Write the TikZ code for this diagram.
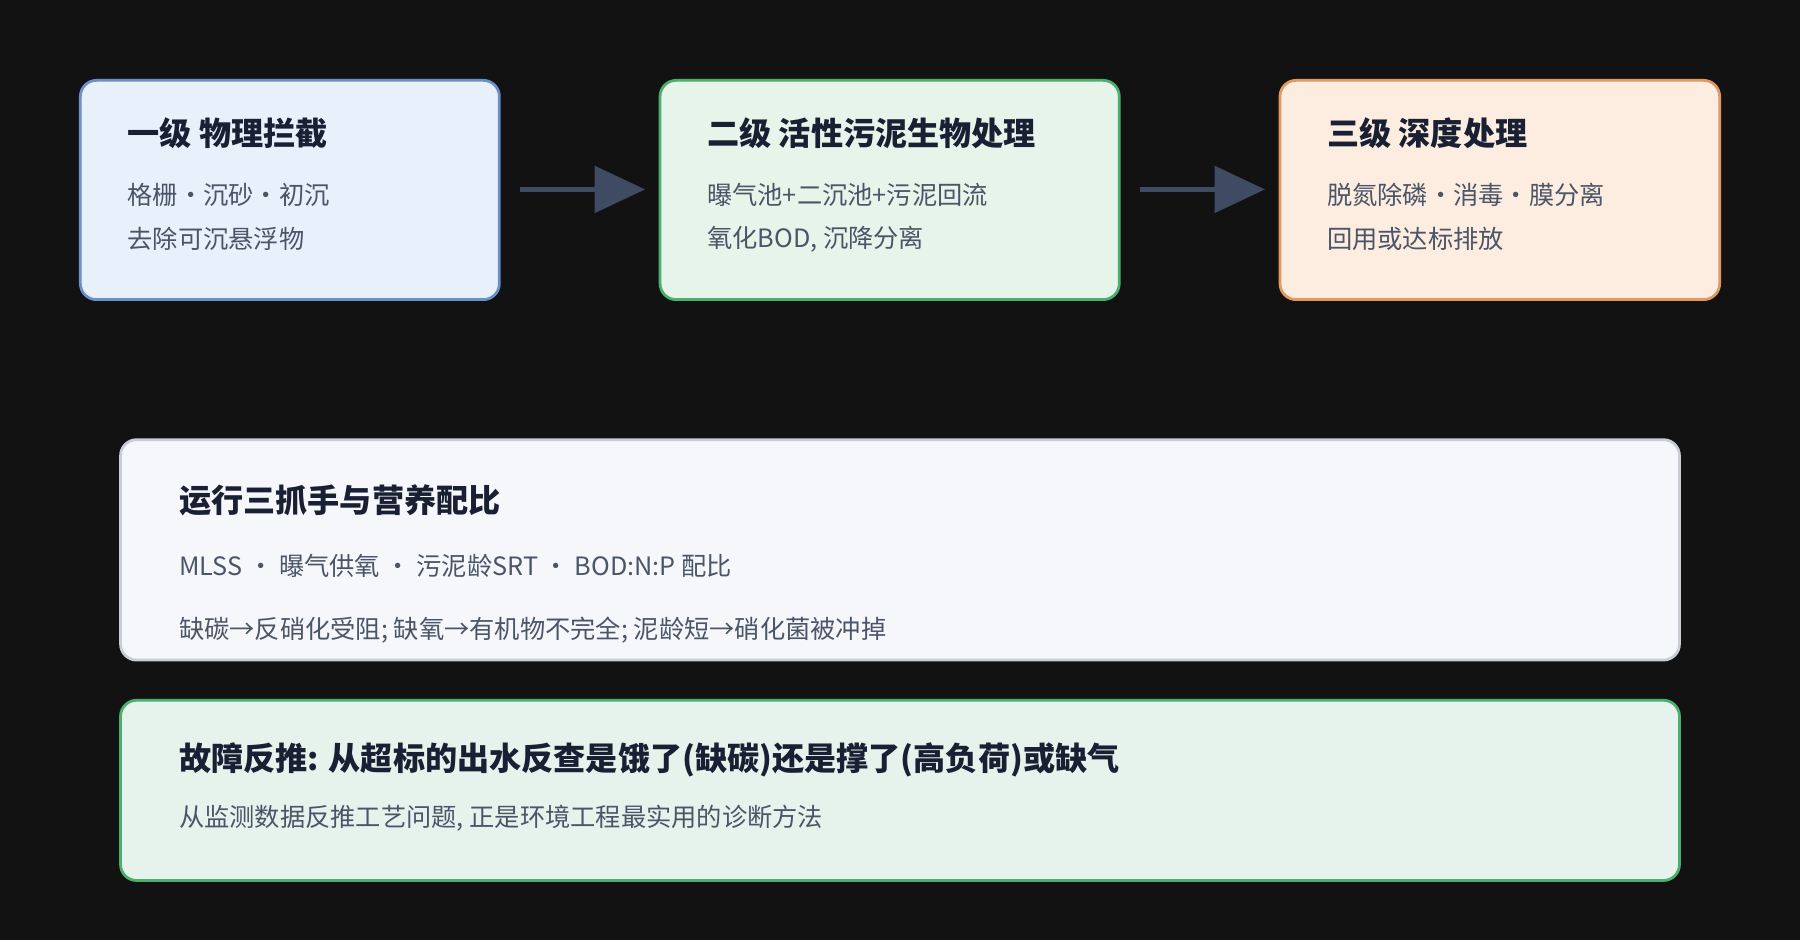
\documentclass[tikz,border=0pt]{standalone}
\usepackage{fontspec}
\setmainfont{Noto Sans CJK SC}
\usetikzlibrary{arrows.meta}
\definecolor{bg}{HTML}{121212}
\definecolor{tc}{HTML}{1A2033}
\definecolor{sc}{HTML}{4A5568}
\definecolor{ac}{HTML}{3F4A63}
\definecolor{f1}{HTML}{E8F0FB}\definecolor{d1}{HTML}{6B8FC7}
\definecolor{f2}{HTML}{E6F4EA}\definecolor{d2}{HTML}{4CAF6E}
\definecolor{f3}{HTML}{FDEDE0}\definecolor{d3}{HTML}{E09A60}
\definecolor{f4}{HTML}{F5F7FB}\definecolor{d4}{HTML}{C8CDD6}
\definecolor{f5}{HTML}{E6F2EC}
\begin{document}
\begin{tikzpicture}[x=0.5pt,y=-0.5pt,
 box/.style={draw,line width=1.2pt,rounded corners=7pt},
 ttl/.style={anchor=west,text=tc,font=\fontsize{14}{16}\selectfont\bfseries},
 sub/.style={anchor=west,text=sc,font=\fontsize{11}{13}\selectfont},
 arr/.style={line width=2.5pt,ac,-{Triangle[length=22pt,width=20pt]}}]
\fill[bg] (0,0) rectangle (1568,819);
\useasboundingbox (0,0) rectangle (1568,819);
\draw[box,fill=f1,draw=d1] (70,70) rectangle (435,261);
\draw[box,fill=f2,draw=d2] (575,70) rectangle (975,261);
\draw[box,fill=f3,draw=d3] (1115,70) rectangle (1498,261);
\draw[box,fill=f4,draw=d4] (105,383) rectangle (1463,575);
\draw[box,fill=f5,draw=d2] (105,610) rectangle (1463,767);
\node[ttl] (t1) at (104,116) {一级 物理拦截};
\node[sub] (s1a) at (104,170) {格栅·沉砂·初沉};
\node[sub] (s1b) at (104,208) {去除可沉悬浮物};
\node[ttl] (t2) at (609,116) {二级 活性污泥生物处理};
\node[sub] (s2a) at (609,170) {曝气池+二沉池+污泥回流};
\node[sub] (s2b) at (609,208) {氧化BOD, 沉降分离};
\node[ttl] (t3) at (1149,116) {三级 深度处理};
\node[sub] (s3a) at (1149,170) {脱氮除磷·消毒·膜分离};
\node[sub] (s3b) at (1149,208) {回用或达标排放};
\coordinate (a1s) at (453,165); \coordinate (a1e) at (562,165);
\coordinate (a2s) at (993,165); \coordinate (a2e) at (1102,165);
\draw[arr] (a1s) -- (a1e);
\draw[arr] (a2s) -- (a2e);
\node[ttl] (t4) at (149,436) {运行三抓手与营养配比};
\node[sub] (s4a) at (149,493) {MLSS · 曝气供氧 · 污泥龄SRT · BOD:N:P 配比};
\node[sub] (s4b) at (149,549) {缺碳→反硝化受阻; 缺氧→有机物不完全; 泥龄短→硝化菌被冲掉};
\node[ttl] (t5) at (149,662) {故障反推: 从超标的出水反查是饿了(缺碳)还是撑了(高负荷)或缺气};
\node[sub] (s5) at (149,713) {从监测数据反推工艺问题, 正是环境工程最实用的诊断方法};
\end{tikzpicture}
\end{document}
